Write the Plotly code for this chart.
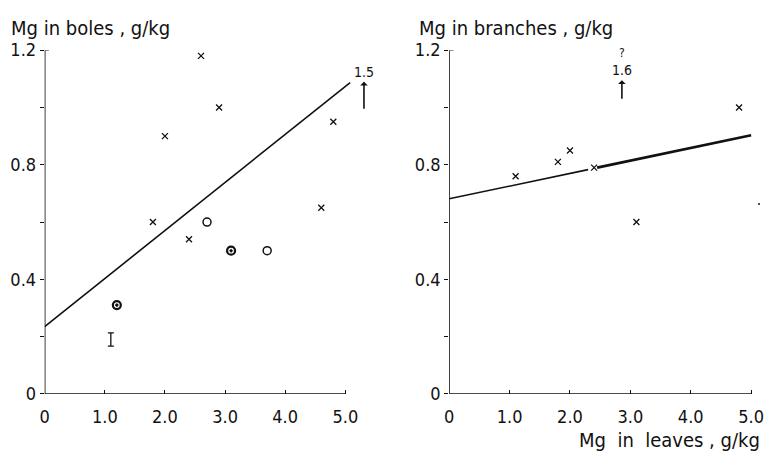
import plotly.graph_objects as go

# ---- data ----
boles_x_cross = [2.6, 2.9, 2.0, 4.8, 4.6, 1.8, 2.4]
boles_y_cross = [1.18, 1.0, 0.90, 0.95, 0.65, 0.60, 0.54]
boles_x_open = [2.7, 3.7]
boles_y_open = [0.60, 0.50]
boles_x_dot = [1.2, 3.1]
boles_y_dot = [0.31, 0.50]
errbar_x = [1.1]
errbar_y = [0.19]
errbar_half = [0.023]
boles_fit_x = [0.0, 5.08]
boles_fit_y = [0.235, 1.087]

branch_x_cross = [4.8, 1.1, 1.8, 2.0, 2.4, 3.1]
branch_y_cross = [1.0, 0.76, 0.81, 0.85, 0.79, 0.60]
branch_x_dot = [5.13]
branch_y_dot = [0.663]
branch_fit_thin_x = [0.0, 2.3]
branch_fit_thin_y = [0.681, 0.783]
branch_fit_thick_x = [2.45, 5.0]
branch_fit_thick_y = [0.790, 0.903]

x_tickvals = [0, 1, 2, 3, 4, 5]
x_ticktext = ["0", "1.0", "2.0", "3.0", "4.0", "5.0"]
y_tickvals = [0, 0.2, 0.4, 0.6, 0.8, 1.0, 1.2]
y_ticktext = ["0", "", "0.4", "", "0.8", "", "1.2"]

FONT = "DejaVu Sans Condensed, DejaVu Sans, sans-serif"
INK = "#111111"

fig = go.Figure()

def cross(x, y, xa, ya):
    fig.add_trace(go.Scatter(x=x, y=y, mode="markers", xaxis=xa, yaxis=ya,
                             marker=dict(symbol="x-thin", size=6, color=INK, line=dict(width=1.3, color=INK)),
                             showlegend=False, cliponaxis=False))

# left panel
fig.add_trace(go.Scatter(x=boles_fit_x, y=boles_fit_y, mode="lines", xaxis="x", yaxis="y",
                         line=dict(color=INK, width=1.6), showlegend=False))
cross(boles_x_cross, boles_y_cross, "x", "y")
fig.add_trace(go.Scatter(x=boles_x_open, y=boles_y_open, mode="markers", xaxis="x", yaxis="y",
                         marker=dict(symbol="circle-open", size=8, color=INK, line=dict(width=1.5, color=INK)),
                         showlegend=False))
fig.add_trace(go.Scatter(x=boles_x_dot, y=boles_y_dot, mode="markers", xaxis="x", yaxis="y",
                         marker=dict(symbol="circle-open-dot", size=8, color=INK, line=dict(width=2.2, color=INK)),
                         showlegend=False))
fig.add_trace(go.Scatter(x=errbar_x, y=errbar_y, mode="markers", xaxis="x", yaxis="y",
                         marker=dict(size=1, color="rgba(0,0,0,0)"),
                         error_y=dict(type="data", array=errbar_half, color=INK, thickness=1.3, width=3),
                         showlegend=False))

# right panel
fig.add_trace(go.Scatter(x=branch_fit_thin_x, y=branch_fit_thin_y, mode="lines", xaxis="x2", yaxis="y2",
                         line=dict(color=INK, width=1.6), showlegend=False))
fig.add_trace(go.Scatter(x=branch_fit_thick_x, y=branch_fit_thick_y, mode="lines", xaxis="x2", yaxis="y2",
                         line=dict(color=INK, width=2.6), showlegend=False))
cross(branch_x_cross, branch_y_cross, "x2", "y2")
fig.add_trace(go.Scatter(x=branch_x_dot, y=branch_y_dot, mode="markers", xaxis="x2", yaxis="y2",
                         marker=dict(symbol="circle", size=2, color=INK), showlegend=False,
                         cliponaxis=False))

ydom = [65 / 466, 425 / 466]
xax = dict(range=[0, 5.5], domain=[40 / 769, (40 + 5.5 * 60.6) / 769], showgrid=False, zeroline=False,
           showline=False, tickvals=x_tickvals, ticktext=x_ticktext, ticks="inside", ticklen=4,
           tickcolor=INK, tickwidth=1, ticklabelstandoff=10,
           tickfont=dict(family=FONT, size=18, color=INK))
yax = dict(range=[0, 1.2], domain=ydom, showgrid=False, zeroline=False, showline=False,
           tickvals=y_tickvals, ticktext=y_ticktext, ticks="outside", ticklen=4, tickcolor=INK,
           tickwidth=1, tickfont=dict(family=FONT, size=18, color=INK))
fig.update_layout(
    width=769, height=466, margin=dict(l=0, r=0, t=0, b=0),
    paper_bgcolor="white", plot_bgcolor="white",
    xaxis=dict(xax, anchor="y"),
    yaxis=dict(yax, anchor="x"),
    xaxis2=dict(xax, range=[0, 5.2], domain=[447.7 / 769, (447.7 + 5.2 * 60.86) / 769], anchor="y2"),
    yaxis2=dict(yax, anchor="x2"),
)

shapes = []
for xr, yr in [("x", "y"), ("x2", "y2")]:
    shapes.append(dict(type="line", xref=xr, yref=yr, x0=0, x1=0, y0=0, y1=1.2, line=dict(color=INK, width=1.6)))
    shapes.append(dict(type="line", xref=xr, yref=yr, x0=0, x1=5, y0=0, y1=0, line=dict(color=INK, width=1.4)))
    shapes.append(dict(type="line", xref=xr, yref=yr, x0=0, x1=0.07, y0=1.2, y1=1.2, line=dict(color=INK, width=1)))
fig.update_layout(shapes=shapes)

ann = []
tfont = dict(family=FONT, size=20, color=INK)
ann.append(dict(text="Mg in boles , g/kg", xref="paper", yref="paper", x=4 / 769, y=1 - 18 / 466,
                xanchor="left", yanchor="middle", showarrow=False, font=tfont))
ann.append(dict(text="Mg in branches , g/kg", xref="paper", yref="paper", x=415 / 769, y=1 - 18 / 466,
                xanchor="left", yanchor="middle", showarrow=False, font=tfont))
ann.append(dict(text="Mg  in  leaves , g/kg", xref="paper", yref="paper", x=763 / 769, y=1 - 449 / 466,
                xanchor="right", yanchor="middle", showarrow=False, font=tfont))
sfont = dict(family=FONT, size=14, color=INK)
ann.append(dict(text="1.5", xref="x", yref="y", x=5.31, y=1.125, showarrow=False, font=sfont))
ann.append(dict(text="", xref="x", yref="y", x=5.31, y=1.09, ax=5.31, ay=0.99, axref="x", ayref="y",
                showarrow=True, arrowhead=1, arrowsize=0.8, arrowwidth=1.6, arrowcolor=INK))
ann.append(dict(text="?", xref="x2", yref="y2", x=2.86, y=1.19, showarrow=False, font=dict(family=FONT, size=12, color=INK)))
ann.append(dict(text="1.6", xref="x2", yref="y2", x=2.86, y=1.13, showarrow=False, font=sfont))
ann.append(dict(text="", xref="x2", yref="y2", x=2.86, y=1.095, ax=2.86, ay=1.025, axref="x2", ayref="y2",
                showarrow=True, arrowhead=1, arrowsize=0.8, arrowwidth=1.6, arrowcolor=INK))
fig.update_layout(annotations=ann)

fig.write_html("out.html")
